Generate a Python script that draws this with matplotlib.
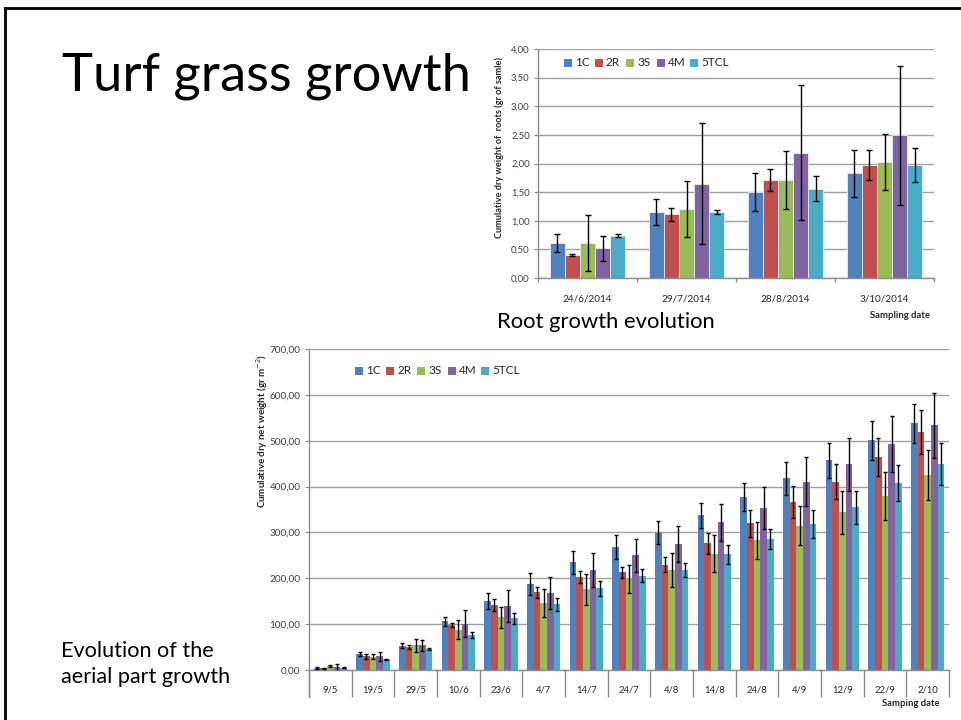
import matplotlib
matplotlib.use("Agg")
import matplotlib.pyplot as plt
import numpy as np
from matplotlib.lines import Line2D
from matplotlib.patches import Rectangle

plt.rcParams['font.family'] = ['Lato', 'DejaVu Sans']

# ---------------- data ----------------
series = ['1C', '2R', '3S', '4M', '5TCL']
colors = ['#4F81BD', '#C0504D', '#9BBB59', '#8064A2', '#4BACC6']

root_dates = ['24/6/2014', '29/7/2014', '28/8/2014', '3/10/2014']
root_1C = [0.61, 1.15, 1.50, 1.83]
root_2R = [0.40, 1.11, 1.71, 1.98]
root_3S = [0.61, 1.20, 1.71, 2.03]
root_4M = [0.52, 1.65, 2.19, 2.49]
root_5TCL = [0.74, 1.15, 1.56, 1.97]
root_err_1C = [0.16, 0.23, 0.33, 0.41]
root_err_2R = [0.02, 0.12, 0.19, 0.26]
root_err_3S = [0.49, 0.49, 0.51, 0.49]
root_err_4M = [0.22, 1.05, 1.18, 1.21]
root_err_5TCL = [0.03, 0.04, 0.22, 0.30]

aerial_dates = ['9/5', '19/5', '29/5', '10/6', '23/6', '4/7', '14/7', '24/7',
                '4/8', '14/8', '24/8', '4/9', '12/9', '22/9', '2/10']
aerial_1C = [5, 35, 53, 106, 150, 187, 235, 269, 299, 337, 377, 418, 457, 501, 538]
aerial_2R = [4, 30, 50, 98, 141, 170, 202, 213, 230, 276, 320, 366, 411, 464, 519]
aerial_3S = [8, 29, 54, 88, 115, 146, 176, 199, 219, 254, 283, 315, 344, 379, 425]
aerial_4M = [6, 30, 54, 101, 139, 168, 218, 250, 274, 322, 353, 411, 449, 492, 534]
aerial_5TCL = [5, 23, 46, 76, 113, 143, 178, 206, 218, 252, 285, 318, 355, 407, 449]
aerial_err_1C = [2, 4, 6, 9, 18, 24, 25, 26, 25, 27, 30, 36, 39, 43, 43]
aerial_err_2R = [1, 5, 5, 5, 13, 12, 13, 12, 17, 23, 29, 35, 39, 41, 47]
aerial_err_3S = [2, 6, 14, 21, 23, 30, 34, 31, 37, 41, 40, 43, 47, 52, 54]
aerial_err_4M = [8, 10, 12, 29, 35, 34, 37, 36, 39, 41, 46, 54, 58, 61, 71]
aerial_err_5TCL = [1, 2, 3, 6, 12, 15, 17, 14, 16, 20, 22, 30, 36, 39, 45]

W, H = 961, 720
fig = plt.figure(figsize=(W / 100, H / 100), dpi=100)


def px_axes(x0, y0, x1, y1):
    return fig.add_axes([x0 / W, 1 - y1 / H, (x1 - x0) / W, (y1 - y0) / H])


def grouped_bars(ax, cats, vals, errs, bar_w, capsize, edge):
    x = np.arange(len(cats))
    n = len(vals)
    for i, (v, e, c) in enumerate(zip(vals, errs, colors)):
        pos = x + (i - (n - 1) / 2) * bar_w
        ax.bar(pos, v, width=bar_w, color=c, edgecolor=edge, linewidth=0.6,
               zorder=2)
        ax.errorbar(pos, v, yerr=e, fmt='none', ecolor='black', elinewidth=1.0,
                    capsize=capsize, capthick=1.0, zorder=3)
    return x


def style_axes(ax, ymax, ystep, ncat, tick_len_px, fs):
    ax.set_xlim(-0.5, ncat - 0.5)
    ax.set_ylim(0, ymax)
    yt = np.arange(0, ymax + ystep / 2, ystep)
    ax.set_yticks(yt)
    ax.set_yticklabels([f"{v:.2f}".replace('.', ',') for v in yt],
                       fontsize=fs, color='#404040')
    ax.yaxis.grid(True, color='#A0A0A0', linewidth=1.0, zorder=0)
    ax.set_axisbelow(True)
    for s in ['top', 'right']:
        ax.spines[s].set_visible(False)
    for s in ['left', 'bottom']:
        ax.spines[s].set_color('#8C8C8C')
        ax.spines[s].set_linewidth(1.0)
    ax.tick_params(axis='y', length=3, color='#8C8C8C', pad=3)
    ax.set_xticks(np.arange(ncat))
    ax.set_xticks(np.arange(ncat + 1) - 0.5, minor=True)
    ax.tick_params(axis='x', which='major', length=0)
    ax.tick_params(axis='x', which='minor', length=tick_len_px * 0.72,
                   color='#8C8C8C', width=1.0)


def legend_row(x0_px, y_px, spacing, fs, sq):
    x = x0_px
    for name, c in zip(series, colors):
        fig.patches.append(Rectangle((x / W, 1 - (y_px + sq / 2) / H),
                                     sq / W, sq / H, facecolor=c,
                                     transform=fig.transFigure,
                                     figure=fig))
        fig.text((x + sq + 3) / W, 1 - y_px / H, name, fontsize=fs,
                 va='center', ha='left', color='#262626')
        x += spacing[name]


# ---------------- root chart ----------------
ax1 = px_axes(538, 49, 934, 278)
root_vals = [root_1C, root_2R, root_3S, root_4M, root_5TCL]
root_errs = [root_err_1C, root_err_2R, root_err_3S, root_err_4M, root_err_5TCL]
grouped_bars(ax1, root_dates, root_vals, root_errs, 0.153, 2.2, '#E8EEF6')
style_axes(ax1, 4.0, 0.5, len(root_dates), 4, 6.8)
ax1.set_xticklabels(root_dates, fontsize=7.2, color='#262626')
ax1.tick_params(axis='x', which='major', pad=12)
fig.text(499 / W, 1 - 147 / H, 'Cumulative dry weight of  roots (gr of samle)',
         rotation=90, fontsize=6.6, fontweight='bold', ha='center', va='center',
         color='#262626')
fig.text(930 / W, 1 - 315 / H, 'Sampling date', fontsize=6.8, fontweight='bold',
         ha='right', va='center', color='#262626')
legend_row(564, 63, {'1C': 31, '2R': 31, '3S': 31, '4M': 33, '5TCL': 50},
           8.5, 8)

# ---------------- aerial chart ----------------
ax2 = px_axes(309, 349, 949, 670)
aer_vals = [aerial_1C, aerial_2R, aerial_3S, aerial_4M, aerial_5TCL]
aer_errs = [aerial_err_1C, aerial_err_2R, aerial_err_3S, aerial_err_4M,
            aerial_err_5TCL]
grouped_bars(ax2, aerial_dates, aer_vals, aer_errs, 0.155, 1.6, 'none')
style_axes(ax2, 700, 100, len(aerial_dates), 27, 7.2)
ax2.set_xticklabels(aerial_dates, fontsize=6.8, color='#262626')
ax2.tick_params(axis='x', which='major', pad=11)
ax2.add_line(Line2D([0, 0], [-27 / 321, 0], transform=ax2.transAxes,
                    color='#8C8C8C', linewidth=1.0, clip_on=False))
fig.text(262 / W, 1 - 431 / H, 'Cumulative dry net weight (gr m$^{-2}$)',
         rotation=90, fontsize=7.0, fontweight='bold', ha='center',
         va='center', color='#262626')
fig.text(940 / W, 1 - 703 / H, 'Samping date', fontsize=6.8, fontweight='bold',
         ha='right', va='center', color='#262626')
legend_row(355, 371, {'1C': 31, '2R': 31, '3S': 31, '4M': 33, '5TCL': 50},
           8.5, 8)

# ---------------- slide text ----------------
fig.text(62 / W, 1 - 90 / H, 'Turf grass growth', fontsize=37.8, ha='left',
         va='baseline', color='black')
fig.text(497 / W, 1 - 328 / H, 'Root growth evolution', fontsize=15.8,
         ha='left', va='baseline', color='black')
fig.text(61 / W, 1 - 657 / H, 'Evolution of the', fontsize=15.6, ha='left',
         va='baseline', color='black')
fig.text(61 / W, 1 - 683 / H, 'aerial part growth', fontsize=15.6, ha='left',
         va='baseline', color='black')

# slide frame
fig.add_artist(Line2D([5 / W, 1], [1 - 7.5 / H, 1 - 7.5 / H],
                      transform=fig.transFigure, color='black', linewidth=2))
fig.add_artist(Line2D([5 / W, 5 / W], [0, 1 - 7.5 / H],
                      transform=fig.transFigure, color='black', linewidth=2))

fig.savefig('out.png', dpi=100)
